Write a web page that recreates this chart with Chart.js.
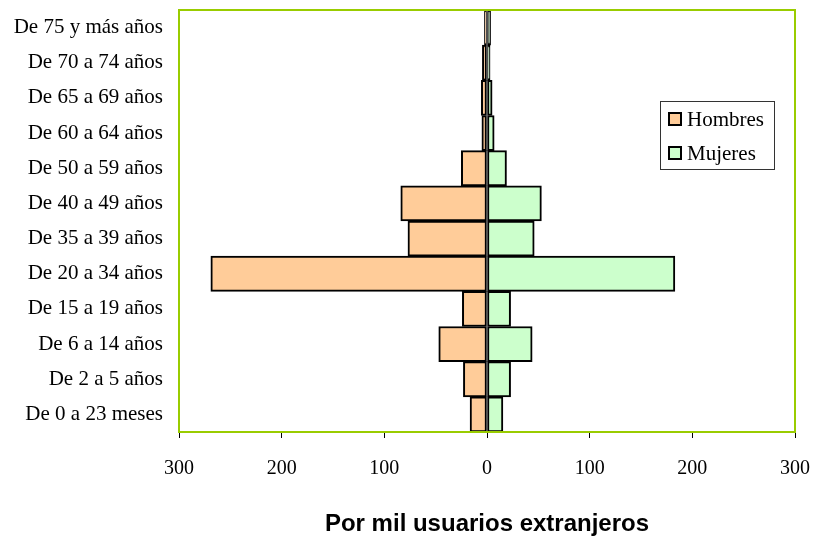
<!DOCTYPE html>
<html>
<head>
<meta charset="utf-8">
<script src="https://cdn.jsdelivr.net/npm/chart.js@4.4.0/dist/chart.umd.min.js"></script>
<style>
  html, body { margin: 0; padding: 0; background: #fff; }
  #wrap { width: 813px; height: 542px; position: relative; }
</style>
</head>
<body>
<div id="wrap"><canvas id="pyr"></canvas></div>
<script>
// grupos de edad, de arriba abajo
const ageGroups = [
  "De 75 y más años", "De 70 a 74 años", "De 65 a 69 años", "De 60 a 64 años",
  "De 50 a 59 años", "De 40 a 49 años", "De 35 a 39 años", "De 20 a 34 años",
  "De 15 a 19 años", "De 6 a 14 años", "De 2 a 5 años", "De 0 a 23 meses"
];
// por mil usuarios extranjeros
const hombres = [2.5, 4.5, 5.5, 5, 25, 84, 77, 269, 24, 47, 23, 16.5];
const mujeres = [3.5, 3, 5, 7, 19, 53, 46, 183, 23, 44, 23, 15.5];
const xTicks = [-300, -200, -100, 0, 100, 200, 300];

const serif = "'Liberation Serif', 'Times New Roman', serif";

// marco verde del área de trazado + leyenda dentro
const frameAndLegend = {
  id: "frameAndLegend",
  afterDatasetsDraw(chart) {
    const { ctx, chartArea: a } = chart;
    ctx.save();
    ctx.strokeStyle = "#99cc00";
    ctx.lineWidth = 2;
    ctx.strokeRect(a.left, a.top, a.right - a.left, a.bottom - a.top);

    // leyenda
    const lx = 660, ly = 101, lw = 114, lh = 68;
    ctx.fillStyle = "#fff";
    ctx.fillRect(lx, ly, lw, lh);
    ctx.strokeStyle = "#333";
    ctx.lineWidth = 1;
    ctx.strokeRect(lx + 0.5, ly + 0.5, lw, lh);
    ctx.font = "21px " + serif;
    ctx.textBaseline = "middle";
    chart.data.datasets.forEach((ds, i) => {
      const cy = ly + 18 + i * 34;
      ctx.fillStyle = ds.backgroundColor;
      ctx.fillRect(lx + 9, cy - 6, 12, 12);
      ctx.strokeStyle = "#000";
      ctx.lineWidth = 2;
      ctx.strokeRect(lx + 9, cy - 6, 12, 12);
      ctx.fillStyle = "#000";
      ctx.fillText(ds.label, lx + 27, cy + 1);
    });
    ctx.restore();
  }
};

new Chart(document.getElementById("pyr"), {
  type: "bar",
  data: {
    labels: ageGroups,
    datasets: [
      {
        label: "Hombres",
        data: hombres.map(v => -v),
        backgroundColor: "#ffcc99",
        borderColor: "#000",
        borderWidth: 2,
        borderSkipped: false,
        barPercentage: 1,
        categoryPercentage: 1
      },
      {
        label: "Mujeres",
        data: mujeres,
        backgroundColor: "#ccffcc",
        borderColor: "#000",
        borderWidth: 2,
        borderSkipped: false,
        barPercentage: 1,
        categoryPercentage: 1
      }
    ]
  },
  options: {
    indexAxis: "y",
    responsive: true,
    maintainAspectRatio: false,
    animation: false,
    layout: { padding: { top: 10, right: 18, left: 0, bottom: 0 } },
    plugins: {
      legend: { display: false },
      tooltip: { enabled: false }
    },
    scales: {
      x: {
        stacked: true,
        min: -300,
        max: 300,
        afterBuildTicks(axis) { axis.ticks = xTicks.map(v => ({ value: v })); },
        afterFit(axis) {
          axis.height = 110;
          axis.paddingLeft = 0;
          axis.paddingRight = 0;
        },
        grid: { drawOnChartArea: false, drawTicks: true, tickLength: 6, color: "#000" },
        border: { display: false },
        ticks: {
          color: "#000",
          padding: 19,
          maxRotation: 0,
          font: { family: serif, size: 20 },
          callback: v => Math.abs(v)
        },
        title: {
          display: true,
          text: "Por mil usuarios extranjeros",
          color: "#000",
          font: { family: "'Liberation Sans', Arial, sans-serif", size: 24, weight: "bold" },
          padding: { top: 4, bottom: 3 }
        }
      },
      y: {
        stacked: true,
        afterFit(axis) {
          axis.width = 179;
          axis.paddingTop = 0;
          axis.paddingBottom = 0;
        },
        grid: { display: false, drawTicks: false },
        border: { display: false },
        ticks: {
          color: "#000",
          padding: 16,
          autoSkip: false,
          font: { family: serif, size: 21 }
        }
      }
    }
  },
  plugins: [frameAndLegend]
});
</script>
</body>
</html>
